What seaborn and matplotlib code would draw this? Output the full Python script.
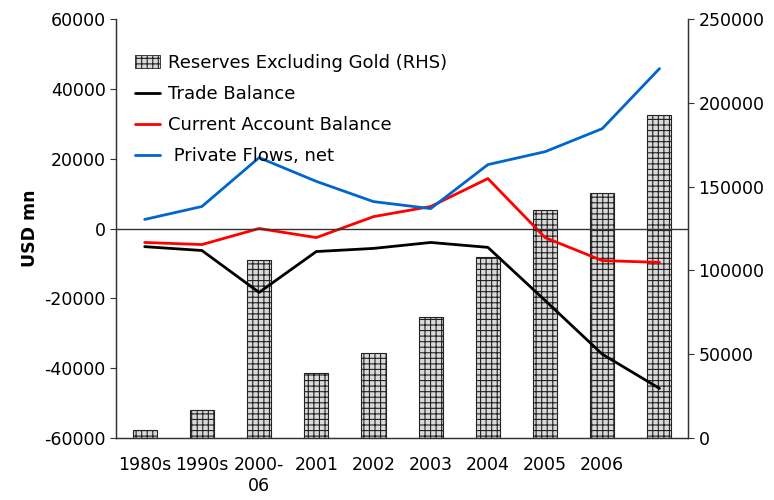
import pandas as pd
import matplotlib
matplotlib.use("Agg")
import matplotlib.pyplot as plt
import matplotlib.patches as mpatches
from matplotlib.lines import Line2D
import seaborn as sns

sns.set_style("white")
plt.rcParams['font.family'] = 'DejaVu Sans'
plt.rcParams['hatch.linewidth'] = 0.8
plt.rcParams['axes.unicode_minus'] = False
plt.rcParams['text.color'] = 'black'
plt.rcParams['axes.labelcolor'] = 'black'
plt.rcParams['xtick.color'] = 'black'
plt.rcParams['ytick.color'] = 'black'

categories = ["1980s", "1990s", "2000-06", "2001", "2002", "2003", "2004", "2005", "2006", "2007"]
tick_labels = ["1980s", "1990s", "2000-\n06", "2001", "2002", "2003", "2004", "2005", "2006", ""]

reserves = [5000, 17000, 106500, 39000, 51000, 72000, 108000, 136000, 146000, 193000]
trade_balance = [-5200, -6300, -18300, -6600, -5700, -4000, -5400, -20600, -36000, -45800]
current_account = [-4000, -4600, 0, -2600, 3400, 6300, 14300, -2600, -9200, -9700]
private_flows = [2600, 6300, 20300, 13500, 7700, 5700, 18300, 22000, 28600, 45800]

df = pd.DataFrame({
    "period": categories,
    "reserves": reserves,
    "trade": trade_balance,
    "current": current_account,
    "private": private_flows,
})

fig, ax = plt.subplots(figsize=(7.74, 5), dpi=100)
ax2 = ax.twinx()

# bars on the right axis
sns.barplot(data=df, x="period", y="reserves", ax=ax2, color="#d9d9d9",
            edgecolor="#222222", linewidth=0.8, width=0.42, hatch="+++",
            order=categories)

# lines on the left axis
sns.lineplot(data=df, x="period", y="trade", ax=ax, color="black", lw=2, sort=False)
sns.lineplot(data=df, x="period", y="current", ax=ax, color="#ff0000", lw=2, sort=False)
sns.lineplot(data=df, x="period", y="private", ax=ax, color="#0066cc", lw=2, sort=False)

ax.set_zorder(ax2.get_zorder() + 1)
ax.patch.set_visible(False)

ax.axhline(0, color="#333333", lw=1)
ax.set_ylim(-60000, 60000)
ax.set_yticks(range(-60000, 60001, 20000))
ax2.set_ylim(0, 250000)
ax2.set_yticks(range(0, 250001, 50000))
ax.set_xlim(-0.5, 9.5)
ax.set_xticks(range(len(categories)))
ax.set_xticklabels(tick_labels)

ax.set_xlabel("")
ax2.set_ylabel("")
ax.set_ylabel("USD mn", fontsize=12.5, fontweight="bold")

for a in (ax, ax2):
    a.spines["top"].set_visible(False)
    for s in ("left", "right", "bottom"):
        a.spines[s].set_color("#333333")
        a.spines[s].set_linewidth(0.9)
    a.tick_params(axis="y", labelsize=12.5, direction="out", length=4, color="#333333")
ax.tick_params(axis="x", labelsize=12.5, length=0, pad=13)

handles = [
    mpatches.Patch(facecolor="#d9d9d9", edgecolor="#222222", hatch="+++", lw=0.6),
    Line2D([], [], color="black", lw=2),
    Line2D([], [], color="#ff0000", lw=2),
    Line2D([], [], color="#0066cc", lw=2),
]
labels = ["Reserves Excluding Gold (RHS)", "Trade Balance", "Current Account Balance", " Private Flows, net"]
ax.legend(handles, labels, loc="upper left", bbox_to_anchor=(0.005, 0.955), frameon=False,
          fontsize=13, handlelength=1.35, handletextpad=0.45, labelspacing=0.72)

fig.subplots_adjust(left=0.15, right=0.889, top=0.962, bottom=0.124)
fig.savefig("out.png", dpi=100)
